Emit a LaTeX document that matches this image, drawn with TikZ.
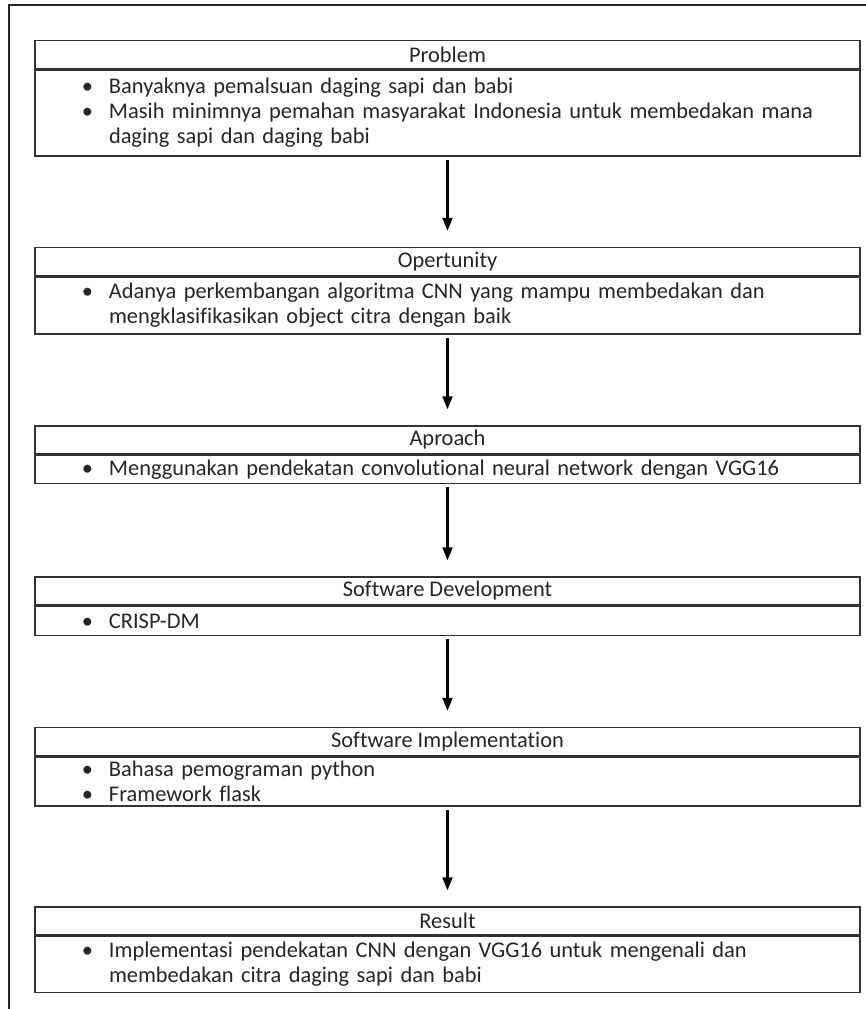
\documentclass[tikz,border=0pt]{standalone}
\usepackage{fontspec}
\setmainfont[Ligatures={NoCommon}]{Carlito}
\usetikzlibrary{arrows.meta}
\newcommand\bul{\leavevmode\llap{\textbullet\hspace{16pt}}}
\tikzset{
  frame/.style={line width=2pt, draw=black!85},
  head/.style={draw=black!80, line width=1.4pt, minimum width=825pt, minimum height=28pt, inner sep=0pt, text=black!85},
  body/.style={draw=black!80, line width=1.4pt, minimum width=825pt, text width=825pt, inner xsep=0pt, inner ysep=2pt, align=left, anchor=north, text=black!85},
  arr/.style={line width=2.2pt, black, -{Triangle[length=13pt,width=10pt]}, shorten <=3pt, shorten >=16pt},
}
\begin{document}
\begin{tikzpicture}[x=1pt,y=-1pt, font=\fontsize{22.4}{25}\selectfont]
\useasboundingbox (0,0) rectangle (866,1009);
\fill[white] (0,0) rectangle (866,1009);
\draw[frame] (9,1009) -- (9,5) -- (866,5);

% Problem
\node[head] (ph) at (447.5,54.5) {Problem};
\node[body, minimum height=86pt] (pb) at (ph.south) {\leftskip=74pt
\bul Banyaknya pemalsuan daging sapi dan babi\\
\bul Masih minimnya pemahan masyarakat Indonesia untuk membedakan mana\\
daging sapi dan daging babi\par};

% Opertunity
\node[head] (oh) at (447.5,261.5) {Opertunity};
\node[body, minimum height=57pt] (ob) at (oh.south) {\leftskip=74pt
\bul Adanya perkembangan algoritma CNN yang mampu membedakan dan\\
mengklasifikasikan object citra dengan baik\par};

% Aproach
\node[head] (ah) at (447.5,440) {Aproach};
\node[body, minimum height=28pt] (ab) at (ah.south) {\leftskip=74pt
\bul Menggunakan pendekatan convolutional neural network dengan VGG16\par};

% Software Development
\node[head] (dh) at (447.5,591) {Software Development};
\node[body, minimum height=29pt] (db) at (dh.south) {\leftskip=74pt
\bul CRISP-DM\par};

% Software Implementation
\node[head] (ih) at (447.5,741.5) {Software Implementation};
\node[body, minimum height=49pt] (ib) at (ih.south) {\leftskip=74pt
\bul Bahasa pemograman python\\
\bul Framework flask\par};

% Result
\node[head] (rh) at (447.5,921) {Result};
\node[body, minimum height=56pt] (rb) at (rh.south) {\leftskip=74pt
\bul Implementasi pendekatan CNN dengan VGG16 untuk mengenali dan\\
membedakan citra daging sapi dan babi\par};

\draw[arr] (pb.south) -- (oh.north);
\draw[arr] (ob.south) -- (ah.north);
\draw[arr] (ab.south) -- (dh.north);
\draw[arr] (db.south) -- (ih.north);
\draw[arr] (ib.south) -- (rh.north);
\end{tikzpicture}
\end{document}
